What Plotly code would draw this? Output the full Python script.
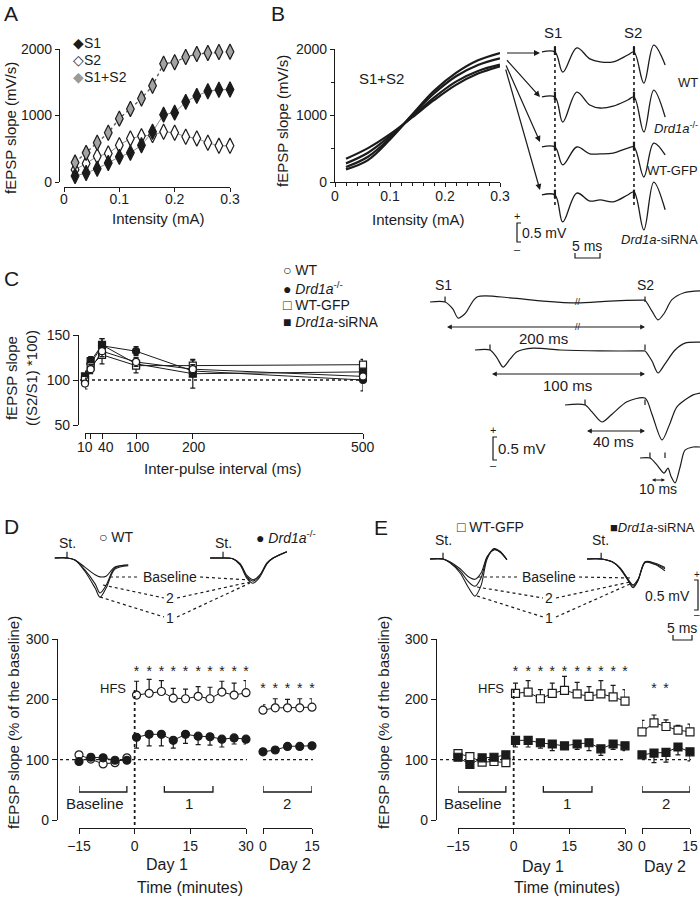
import plotly.graph_objects as go

W, H = 700, 900
FONT = "Liberation Sans, Arial, Helvetica, sans-serif"
INK = "#1b1b1b"


def fx(p):
    return p / W


def fy(p):
    return 1 - p / H


# ======================= DATA =======================
# ---- Panel A : input/output curves ----
intensity = [0.02, 0.04, 0.06, 0.08, 0.10, 0.12, 0.14, 0.16, 0.18, 0.20, 0.22, 0.24, 0.26, 0.28, 0.30]
a_s1 = [90, 136, 200, 287, 378, 438, 554, 756, 1013, 1043, 1205, 1295, 1366, 1386, 1391]
a_s2 = [186, 277, 388, 428, 554, 655, 690, 705, 756, 741, 680, 655, 590, 544, 544]
a_s12 = [292, 438, 590, 741, 953, 1099, 1255, 1446, 1779, 1800, 1880, 1925, 1940, 1955, 1960]

# ---- Panel B : fitted S1+S2 curves ----
b_intensity = [0.02, 0.06, 0.10, 0.14, 0.18, 0.22, 0.26, 0.30]
b_fit_1 = [190, 330, 640, 1010, 1370, 1640, 1830, 1940]
b_fit_2 = [225, 380, 660, 1000, 1330, 1590, 1760, 1860]
b_fit_3 = [280, 440, 690, 980, 1270, 1510, 1670, 1765]
b_fit_4 = [350, 510, 720, 970, 1230, 1460, 1630, 1740]

# ---- Panel B : example paired-pulse traces (ms, mV) ----
bt_time = [-2.5, 0, 1.5, 4.2, 6.7, 8.7, 11.2, 14.0, 15.2, 17.1, 19.0, 21.2]
bt_wt = [0, 0, -0.53, 0.11, -0.18, -0.26, -0.26, -0.08, 0, -0.82, 0.18, -0.34]
bt_ko = [0, 0, -0.66, 0.13, -0.21, -0.29, -0.24, -0.08, 0, -0.92, 0.18, -0.53]
bt_gfp = [0, 0, -0.47, 0.0, -0.18, -0.18, -0.16, -0.03, 0, -0.79, 0.10, -0.21]
bt_sirna = [0, 0, -0.71, 0.05, -0.16, -0.13, -0.18, 0.0, 0.08, -0.92, 0.34, -0.39]
bt_stims = [0, 15.2]

# ---- Panel C : paired-pulse facilitation ----
ipi = [10, 20, 40, 100, 200, 500]
ipi_ticks = [10, 20, 40, 100, 200, 500]
ipi_ticktext = ["10", "40", "100", "200", "500"]
c_wt = [96, 112, 132, 120, 112, 104]
c_wt_err = [6, 5, 6, 5, 5, 4]
c_ko = [103, 118, 138, 132, 110, 100]
c_ko_err = [7, 5, 8, 5, 6, 12]
c_gfp = [100, 115, 128, 116, 116, 117]
c_gfp_err = [6, 5, 10, 8, 6, 6]
c_sirna = [104, 121, 139, 118, 107, 109]
c_sirna_err = [5, 5, 7, 5, 16, 6]

# ---- Panel C : example traces (ms relative to S2, mV) ----
ct200_t = [-138.7, -129, -124, -120.6, -116, -108.4, -87.1, -65.8, -43.9, -22.6, -1.3, 0, 4.5, 8.4, 12.3, 17.4, 25.2, 35.5]
ct200_v = [0, 0, -0.15, -0.35, -0.25, 0.11, 0.09, 0.02, -0.02, 0.02, 0.04, 0.04, -0.2, -0.39, -0.25, 0.05, 0.2, 0.24]
ct100_t = [-109.7, -100, -95.5, -91.6, -87.1, -82.6, -72.3, -54.8, -29, -1.3, 0, 4.5, 8.4, 12.9, 19.4, 25.8, 35.5]
ct100_v = [0, 0, -0.17, -0.37, -0.2, -0.04, 0.04, 0, -0.02, -0.02, -0.02, -0.24, -0.5, -0.3, 0.0, 0.15, 0.17]
ct40_t = [-51.6, -38.7, -34.2, -27.7, -21.3, -11.6, 0, 4.5, 11, 16.1, 20.6, 31, 35.5]
ct40_v = [0, 0, -0.15, -0.37, -0.2, 0.07, 0.15, -0.2, -0.76, -0.4, -0.04, 0.22, 0.26]
ct10_t = [-3.2, 3.2, 7.7, 12.3, 14.8, 16.8, 19.4, 22.6, 25.8, 31, 35.5]
ct10_v = [0, 0, -0.15, -0.33, -0.22, -0.4, -0.54, -0.2, 0.17, 0.24, 0.24]
ct_stims = [[-129, 0], [-100, 0], [-38.7, 0], [3.2, 12.9]]

# ---- Panels D / E : LTP time courses ----
time_base = [-15, -11.8, -8.5, -5.3, -2.1]
time_post = [0.5, 3.9, 7.2, 10.4, 13.7, 17.1, 20.3, 23.5, 26.8, 30.0]
time_day2 = [0, 3.75, 7.5, 11.25, 15]

d_wt_base = [108, 101, 93, 95, 103]
d_wt_base_err = [4, 3, 3, 3, 4]
d_ko_base = [97, 104, 103, 99, 99]
d_ko_base_err = [3, 3, 3, 3, 3]
d_wt_post = [207, 210, 213, 202, 201, 205, 201, 212, 207, 211]
d_wt_post_err = [23, 23, 18, 16, 16, 16, 19, 18, 20, 20]
d_ko_post = [137, 142, 142, 132, 142, 139, 138, 134, 136, 134]
d_ko_post_err = [18, 19, 19, 13, 15, 14, 14, 13, 10, 8]
d_wt_day2 = [182, 186, 186, 186, 187]
d_wt_day2_err = [9, 15, 14, 15, 14]
d_ko_day2 = [113, 116, 122, 122, 123]
d_ko_day2_err = [4, 4, 3, 3, 3]
d_sig_day1 = [1, 1, 1, 1, 1, 1, 1, 1, 1, 1]
d_sig_day2 = [1, 1, 1, 1, 1]

e_gfp_base = [110, 105, 96, 97, 95]
e_gfp_base_err = [3, 3, 4, 3, 4]
e_si_base = [104, 92, 103, 104, 108]
e_si_base_err = [3, 4, 3, 3, 4]
e_gfp_post = [210, 212, 201, 210, 215, 209, 205, 209, 204, 197]
e_gfp_post_err = [17, 19, 15, 17, 23, 19, 16, 22, 19, 19]
e_si_post = [132, 132, 128, 126, 123, 126, 128, 118, 126, 123]
e_si_post_err = [11, 11, 9, 11, 6, 9, 13, 11, 9, 8]
e_gfp_day2 = [146, 161, 155, 149, 146]
e_gfp_day2_err = [19, 13, 11, 8, 13]
e_si_day2 = [108, 111, 112, 121, 113]
e_si_day2_err = [7, 16, 16, 13, 15]
e_sig_day1 = [1, 1, 1, 1, 1, 1, 1, 1, 1, 1]
e_sig_day2 = [0, 1, 1, 0, 0]

# ---- Panels D / E : example fEPSP traces (ms from stimulus, mV) ----
dl_t = [-3.2, 0, 2.1, 4.7, 7.4, 8.7, 10.3, 12.6, 16.1]
dl_base = [0, 0, -0.03, -0.13, -0.24, -0.27, -0.26, -0.13, -0.10]
dl_2 = [0, 0, -0.03, -0.17, -0.37, -0.50, -0.39, -0.14, -0.10]
dl_1 = [0, 0, -0.03, -0.19, -0.43, -0.56, -0.43, -0.16, -0.11]
dr_t = [-3.4, 0, 2.6, 4.5, 6.3, 7.9, 9.7, 11.6, 13.2, 16.8]
dr_base = [0, 0, -0.01, -0.08, -0.25, -0.31, -0.24, -0.07, 0.0, 0.09]
dr_2 = [0, 0, -0.01, -0.09, -0.27, -0.33, -0.25, -0.07, 0.0, 0.09]
dr_1 = [0, 0, -0.01, -0.10, -0.29, -0.36, -0.27, -0.08, 0.0, 0.09]

el_t = [-3.4, 0, 1.8, 4.5, 6.6, 8.4, 10.0, 11.6, 13.4, 15.0, 16.8]
el_base = [0, 0, -0.04, -0.14, -0.25, -0.29, -0.20, 0.03, 0.13, 0.10, -0.01]
el_2 = [0, 0, -0.05, -0.17, -0.32, -0.39, -0.27, 0.02, 0.14, 0.10, -0.01]
el_1 = [0, 0, -0.05, -0.20, -0.40, -0.53, -0.38, 0.0, 0.15, 0.11, -0.01]
er_t = [-3.7, 0, 2.9, 5.0, 7.1, 8.4, 9.7, 11.6, 14.2, 16.8]
er_base = [0, 0, -0.04, -0.13, -0.29, -0.37, -0.29, -0.04, -0.06, -0.12]
er_2 = [0, 0, -0.04, -0.13, -0.30, -0.39, -0.30, -0.04, -0.07, -0.14]
er_1 = [0, 0, -0.04, -0.14, -0.31, -0.41, -0.31, -0.05, -0.08, -0.17]

# ======================= FIGURE =======================
fig = go.Figure()
shapes = []
anns = []


def line_tr(x, y, xa, ya, color=INK, width=1.2, dash=None, shape="linear", smoothing=1.0):
    fig.add_trace(go.Scatter(
        x=x, y=y, mode="lines", xaxis=xa, yaxis=ya, hoverinfo="skip", showlegend=False,
        line=dict(color=color, width=width, dash=dash, shape=shape,
                  smoothing=smoothing if shape == "spline" else None)))


def series(x, y, xa, ya, symbol, fill, size=8, up=None, dn=None, line=True, lw=1.0):
    err = None
    if up is not None or dn is not None:
        err = dict(type="data", symmetric=False,
                   array=up if up is not None else [0] * len(x),
                   arrayminus=dn if dn is not None else [0] * len(x),
                   color=INK, thickness=1.2, width=2.5)
    fig.add_trace(go.Scatter(
        x=x, y=y, mode="lines+markers" if line else "markers", xaxis=xa, yaxis=ya,
        showlegend=False, hoverinfo="skip", cliponaxis=False,
        line=dict(color=INK, width=lw),
        marker=dict(symbol=symbol, size=size, color=fill, line=dict(color=INK, width=1.2)),
        error_y=err))


def stars(x, sig, yval, xa, ya):
    xs = [xi for xi, s in zip(x, sig) if s]
    fig.add_trace(go.Scatter(
        x=xs, y=[yval] * len(xs), mode="text", text=["*"] * len(xs), xaxis=xa, yaxis=ya,
        textfont=dict(size=14, color=INK, family=FONT), showlegend=False, hoverinfo="skip",
        cliponaxis=False))


def txt(x, y, s, size=14, xanchor="center", yanchor="middle", angle=0):
    anns.append(dict(x=fx(x), y=fy(y), xref="paper", yref="paper", text=s, showarrow=False,
                     font=dict(size=size, color=INK, family=FONT), xanchor=xanchor,
                     yanchor=yanchor, textangle=angle, borderpad=0))


def ppath(points, width=1.2, dash=None):
    p = "M " + " L ".join(f"{fx(a):.5f},{fy(b):.5f}" for a, b in points)
    shapes.append(dict(type="path", xref="paper", yref="paper", path=p,
                       line=dict(color=INK, width=width, dash=dash)))


def arrow(hx, hy, tx, ty, both=False, size=1.0):
    anns.append(dict(x=fx(hx), y=fy(hy), xref="paper", yref="paper", ax=tx - hx, ay=ty - hy,
                     axref="pixel", ayref="pixel", text=" ", showarrow=True, arrowhead=2,
                     arrowsize=size, arrowwidth=1.2, arrowcolor=INK, standoff=0, startstandoff=0,
                     font=dict(size=2), arrowside="end+start" if both else "end"))


# ---------------- Panel A ----------------
line_tr(intensity, a_s12, "x", "y", color="#555", width=1.3, dash="dot")
line_tr(intensity, a_s1, "x", "y", color="#8a8a8a", width=1.0)
line_tr(intensity, a_s2, "x", "y", color="#8a8a8a", width=1.0)
series(intensity, a_s2, "x", "y", "diamond-tall", "white", size=11, line=False)
series(intensity, a_s1, "x", "y", "diamond-tall", INK, size=11, line=False)
series(intensity, a_s12, "x", "y", "diamond-tall", "#a3a3a3", size=11, line=False)

# ---------------- Panel B ----------------
for f in (b_fit_1, b_fit_2, b_fit_3, b_fit_4):
    line_tr(b_intensity, f, "x2", "y2", width=2.2, shape="spline", smoothing=1.0)

b_offsets = [-0.842, -2.026, -3.342, -4.605]
for tr, off in zip((bt_wt, bt_ko, bt_gfp, bt_sirna), b_offsets):
    line_tr(bt_time, [v + off for v in tr], "x3", "y3", width=1.3, shape="spline", smoothing=1.0)
    for s in bt_stims:
        line_tr([s, s], [off - 0.08, off + 0.14], "x3", "y3", width=2.2)
for s in bt_stims:
    shapes.append(dict(type="line", xref="x3", yref="paper", x0=s, x1=s, y0=fy(46), y1=fy(205),
                       line=dict(color=INK, width=1.6, dash="3px,3px")))

# ---------------- Panel C ----------------
series(ipi, c_ko, "x4", "y4", "circle", INK, size=7, up=c_ko_err, dn=c_ko_err)
series(ipi, c_sirna, "x4", "y4", "square", INK, size=7, up=c_sirna_err, dn=c_sirna_err)
series(ipi, c_gfp, "x4", "y4", "square", "white", size=7, up=c_gfp_err, dn=c_gfp_err)
series(ipi, c_wt, "x4", "y4", "circle", "white", size=7, up=c_wt_err, dn=c_wt_err)
shapes.append(dict(type="line", xref="paper", yref="y4", x0=fx(80), x1=fx(366), y0=100, y1=100,
                   line=dict(color=INK, width=1.3, dash="dot"), layer="below"))

c_offsets = [-0.478, -1.522, -2.717, -3.870]
for (tt, vv), off, st in zip(((ct200_t, ct200_v), (ct100_t, ct100_v), (ct40_t, ct40_v), (ct10_t, ct10_v)),
                             c_offsets, ct_stims):
    line_tr(tt, [v + off for v in vv], "x5", "y5", width=1.2, shape="spline", smoothing=0.8)
    for s in st:
        line_tr([s, s], [off, off + 0.12], "x5", "y5", width=1.2)

# ---------------- Panel D ----------------
series(time_base, d_wt_base, "x6", "y6", "circle", "white", up=d_wt_base_err, dn=d_wt_base_err)
series(time_base, d_ko_base, "x6", "y6", "circle", INK, up=d_ko_base_err, dn=d_ko_base_err)
series(time_post, d_wt_post, "x6", "y6", "circle", "white", up=d_wt_post_err)
series(time_post, d_ko_post, "x6", "y6", "circle", INK, dn=d_ko_post_err)
series(time_day2, d_wt_day2, "x7", "y6", "circle", "white", up=d_wt_day2_err)
series(time_day2, d_ko_day2, "x7", "y6", "circle", INK, dn=d_ko_day2_err)
stars(time_post, d_sig_day1, 245, "x6", "y6")
stars(time_day2, d_sig_day2, 216, "x7", "y6")

for tt, tr_list, t0 in ((dl_t, (dl_base, dl_2, dl_1), 0.0), (dr_t, (dr_base, dr_2, dr_1), 41.05)):
    for tr in tr_list:
        line_tr([t + t0 for t in tt], tr, "x8", "y8", width=1.1, shape="spline", smoothing=0.9)
    line_tr([t0, t0], [0, 0.09], "x8", "y8", width=1.2)

# ---------------- Panel E ----------------
series(time_base, e_gfp_base, "x9", "y9", "square", "white", up=e_gfp_base_err, dn=e_gfp_base_err)
series(time_base, e_si_base, "x9", "y9", "square", INK, up=e_si_base_err, dn=e_si_base_err)
series(time_post, e_gfp_post, "x9", "y9", "square", "white", up=e_gfp_post_err)
series(time_post, e_si_post, "x9", "y9", "square", INK, dn=e_si_post_err)
series(time_day2, e_gfp_day2, "x10", "y9", "square", "white", up=e_gfp_day2_err)
series(time_day2, e_si_day2, "x10", "y9", "square", INK, dn=e_si_day2_err)
stars(time_post, e_sig_day1, 245, "x9", "y9")
stars(time_day2, e_sig_day2, 216, "x10", "y9")

for tt, tr_list, t0 in ((el_t, (el_base, el_2, el_1), 0.0), (er_t, (er_base, er_2, er_1), 41.6)):
    for tr in tr_list:
        line_tr([t + t0 for t in tt], tr, "x11", "y11", width=1.1, shape="spline", smoothing=0.9)
    line_tr([t0, t0], [0, 0.09], "x11", "y11", width=1.2)

# reference lines / brackets for D and E
for (xa, xa2, ya, x_lo, x_hi, d2_lo, d2_hi) in (("x6", "x7", "y6", 60, 247, 263, 313),
                                                 ("x9", "x10", "y9", 440, 626, 642, 691)):
    for a, b in ((x_lo, x_hi), (d2_lo, d2_hi)):
        shapes.append(dict(type="line", xref="paper", yref=ya, x0=fx(a), x1=fx(b), y0=100, y1=100,
                           line=dict(color=INK, width=1.3, dash="dot"), layer="below"))
    shapes.append(dict(type="line", xref=xa, yref="paper", x0=0, x1=0, y0=fy(690), y1=fy(828),
                       line=dict(color=INK, width=1.8, dash="dot")))
    for ref, a, b in ((xa, -15, -2.1), (xa, 8.0, 21.1), (xa2, 0, 15)):
        shapes.append(dict(type="path", xref=ref, yref="paper",
                           path=f"M {a},{fy(786)} L {a},{fy(792)} L {b},{fy(792)} L {b},{fy(786)}",
                           line=dict(color=INK, width=1.3)))

# ======================= TEXT =======================
# panel letters
txt(3, 14, "A", 21, "left")
txt(270, 14, "B", 21, "left")
txt(3, 278, "C", 21, "left")
txt(3, 526, "D", 21, "left")
txt(373, 527, "E", 21, "left")

# A
txt(10, 128, "fEPSP slope (mV/s)", 15, angle=-90)
txt(158, 218, "Intensity (mA)", 15)
txt(72, 43, "◆S1", 14, "left")
txt(72, 60, "◇S2", 14, "left")
txt(72, 77, "<span style='color:#9a9a9a'>◆</span>S1+S2", 14, "left")

# B
txt(282, 121, "fEPSP slope (mV/s)", 15, angle=-90)
txt(418, 219, "Intensity (mA)", 15)
txt(381, 79, "S1+S2", 15)
txt(553, 33, "S1", 15)
txt(633, 33, "S2", 15)
txt(699, 82, "WT", 13, "right")
txt(699, 128, "<i>Drd1a</i><sup>-/-</sup>", 13, "right")
txt(699, 171, "WT-GFP", 13, "right")
txt(699, 239, "<i>Drd1a</i>-siRNA", 13, "right")
for ty, hy in ((53, 53), (58, 97), (63, 142), (67, 190)):
    arrow(540, hy, 505, ty)
ppath([(521, 223), (517, 223), (517, 242), (521, 242)])
txt(517, 216, "+", 11)
txt(517, 249, "–", 11)
txt(521, 233, "0.5 mV", 14, "left")
txt(587, 246, "5 ms", 14)
ppath([(575, 253), (575, 258), (600, 258), (600, 253)])

# C
txt(22, 378, "fEPSP slope<br>((S2/S1) *100)", 15, angle=-90)
txt(223, 468, "Inter-pulse interval (ms)", 15)
for lbl, xp in zip(ipi_ticktext, [85, 106, 138, 194, 363]):
    txt(xp, 447, lbl, 14)
txt(282, 270, "○ WT", 14, "left")
txt(282, 288, "● <i>Drd1a</i><sup>-/-</sup>", 14, "left")
txt(282, 305, "□ WT-GFP", 14, "left")
txt(282, 322, "■ <i>Drd1a</i>-siRNA", 14, "left")
txt(444, 285, "S1", 14)
txt(645, 285, "S2", 14)
arrow(645, 327, 445, 327, both=True, size=0.8)
arrow(645, 374, 490, 374, both=True, size=0.8)
arrow(645, 431, 585, 431, both=True, size=0.8)
arrow(665, 480, 650, 480, both=True, size=0.6)
txt(578, 302, "//", 9)
txt(578, 327, "//", 9)
txt(543, 338, "200 ms", 15)
txt(567, 385, "100 ms", 15)
txt(613, 442, "40 ms", 15)
txt(658, 489, "10 ms", 14)
ppath([(497, 437), (493, 437), (493, 460), (497, 460)])
txt(493, 430, "+", 11)
txt(493, 465, "–", 11)
txt(497, 448, "0.5 mV", 15, "left")

# D
txt(13, 723, "fEPSP slope (% of the baseline)", 15, angle=-90)
txt(67, 543, "St.", 14)
txt(223, 543, "St.", 14)
txt(98, 537, "○ WT", 14, "left")
txt(255, 537, "● <i>Drd1a</i><sup>-/-</sup>", 14, "left")
txt(170, 577, "Baseline", 14)
txt(170, 598, "2", 14)
txt(170, 618, "1", 14)
ppath([(110, 577), (140, 577)], 1.2, "dot")
ppath([(200, 577), (250, 580)], 1.2, "dot")
ppath([(103, 585), (164, 598)], 1.2, "dot")
ppath([(177, 598), (250, 582)], 1.2, "dot")
ppath([(100, 597), (164, 617)], 1.2, "dot")
ppath([(177, 617), (250, 583)], 1.2, "dot")
txt(127, 688, "HFS", 13, "right")
txt(95, 803, "Baseline", 15)
txt(189, 803, "1", 15)
txt(287, 803, "2", 15)
txt(167, 864, "Day 1", 16)
txt(290, 864, "Day 2", 16)
txt(190, 887, "Time (minutes)", 16)

# E
txt(383, 723, "fEPSP slope (% of the baseline)", 15, angle=-90)
txt(444, 540, "St.", 14)
txt(600, 540, "St.", 14)
txt(456, 527, "□ WT-GFP", 14, "left")
txt(609, 527, "■<i>Drd1a</i>-siRNA", 13, "left")
txt(549, 577, "Baseline", 14)
txt(549, 598, "2", 14)
txt(549, 618, "1", 14)
ppath([(478, 577), (519, 577)], 1.2, "dot")
ppath([(579, 577), (630, 578)], 1.2, "dot")
ppath([(477, 587), (543, 598)], 1.2, "dot")
ppath([(556, 598), (630, 582)], 1.2, "dot")
ppath([(477, 596), (543, 617)], 1.2, "dot")
ppath([(556, 617), (630, 584)], 1.2, "dot")
txt(505, 688, "HFS", 13, "right")
txt(473, 803, "Baseline", 15)
txt(567, 803, "1", 15)
txt(666, 803, "2", 15)
txt(543, 866, "Day 1", 16)
txt(665, 866, "Day 2", 16)
txt(567, 887, "Time (minutes)", 16)
ppath([(694, 580), (698, 580), (698, 610), (694, 610)])
txt(697, 574, "+", 10)
txt(697, 614, "–", 10)
txt(691, 596, "0.5 mV", 14, "right")
txt(682, 628, "5 ms", 14)
ppath([(673, 635), (673, 640), (692, 640), (692, 635)])


# ======================= AXES =======================
def ax(**kw):
    d = dict(showgrid=False, zeroline=False, showline=True, linecolor=INK, linewidth=1.3,
             ticks="outside", ticklen=5, tickwidth=1.3, tickcolor=INK, fixedrange=True,
             tickfont=dict(size=14, color=INK, family=FONT), automargin=False)
    d.update(kw)
    return d


def hid(**kw):
    d = dict(visible=False, showgrid=False, zeroline=False, fixedrange=True)
    d.update(kw)
    return d


minor_x = dict(ticks="outside", ticklen=3, tickwidth=1, tickcolor=INK, dtick=0.02, showgrid=False)
minor_y = dict(ticks="outside", ticklen=3, tickwidth=1, tickcolor=INK, tickvals=[500, 1500], showgrid=False)

fig.update_layout(
    width=W, height=H, margin=dict(l=0, r=0, t=0, b=0, pad=0, autoexpand=False),
    paper_bgcolor="white", plot_bgcolor="white", showlegend=False,
    font=dict(family=FONT, color=INK),
    xaxis=ax(domain=[fx(64), fx(230)], range=[0, 0.3], anchor="free", position=fy(187),
             tickvals=[0, 0.1, 0.2, 0.3], ticktext=["0", "0.1", "0.2", "0.3"],
             ticklen=4, ticklabelstandoff=-5),
    yaxis=ax(domain=[fy(182), fy(49)], range=[0, 2000], anchor="free", position=fx(59),
             tickvals=[0, 1000, 2000], ticklen=4),
    xaxis2=ax(domain=[fx(335), fx(500)], range=[0, 0.3], anchor="y2",
              tickvals=[0, 0.1, 0.2, 0.3], ticktext=["0", "0.1", "0.2", "0.3"], minor=minor_x,
              ticklen=4, ticklabelstandoff=-3),
    yaxis2=ax(domain=[fy(182), fy(49)], range=[0, 2000], anchor="x2",
              tickvals=[0, 1000, 2000], minor=minor_y, ticklen=4),
    xaxis3=hid(domain=[fx(530), fx(700)], range=[-4.8, 27.9], anchor="y3"),
    yaxis3=hid(domain=[fy(260), fy(20)], range=[-6.316, 0], anchor="x3"),
    xaxis4=ax(domain=[fx(85), fx(363)], range=[10, 500], anchor="free", position=fy(433),
              tickvals=ipi_ticks, showticklabels=False),
    yaxis4=ax(domain=[fy(425), fy(335)], range=[50, 150], anchor="free", position=fx(78),
              tickvals=[50, 100, 150]),
    xaxis5=hid(domain=[fx(420), fx(700)], range=[-145.16, 35.48], anchor="y5"),
    yaxis5=hid(domain=[fy(495), fy(280)], range=[-4.674, 0], anchor="x5"),
    xaxis6=ax(domain=[fx(79), fx(246)], range=[-15, 30], anchor="free", position=fy(828),
              tickvals=[-15, 0, 15, 30]),
    xaxis7=ax(domain=[fx(263), fx(312)], range=[0, 15], anchor="free", position=fy(828),
              tickvals=[0, 15]),
    yaxis6=ax(domain=[fy(820), fy(639)], range=[0, 300], anchor="free", position=fx(57),
              tickvals=[0, 100, 200, 300]),
    xaxis8=hid(domain=[fx(40), fx(300)], range=[-7.1, 61.3], anchor="y8"),
    yaxis8=hid(domain=[fy(630), fy(520)], range=[-1.029, 0.543], anchor="x8"),
    xaxis9=ax(domain=[fx(458), fx(625)], range=[-15, 30], anchor="free", position=fy(828),
              tickvals=[-15, 0, 15, 30]),
    xaxis10=ax(domain=[fx(642), fx(690)], range=[0, 15], anchor="free", position=fy(828),
               tickvals=[0, 15]),
    yaxis9=ax(domain=[fy(820), fy(639)], range=[0, 300], anchor="free", position=fx(436),
              tickvals=[0, 100, 200, 300]),
    xaxis11=hid(domain=[fx(420), fx(700)], range=[-6.05, 67.6], anchor="y11"),
    yaxis11=hid(domain=[fy(630), fy(520)], range=[-1.014, 0.557], anchor="x11"),
    shapes=shapes,
    annotations=anns,
)

fig.write_html(
    "out.html",
    config={"responsive": False, "displayModeBar": False},
    post_script="document.body.style.margin='0';document.body.style.overflow='hidden';",
)
